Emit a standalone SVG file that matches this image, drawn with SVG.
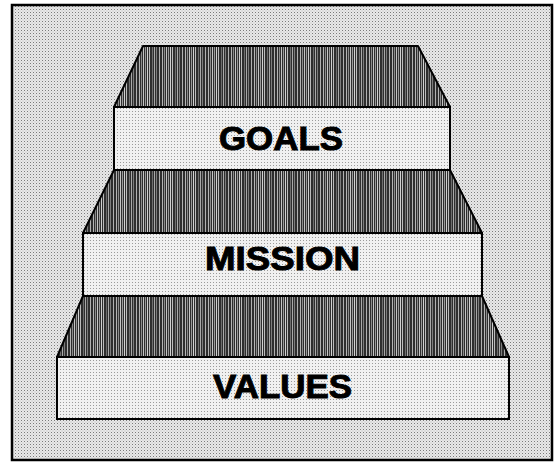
<svg xmlns="http://www.w3.org/2000/svg" width="555" height="463" viewBox="0 0 555 463">
  <defs>
    <!-- halftone dot screen for the backdrop -->
    <pattern id="dots" width="3" height="3" patternUnits="userSpaceOnUse">
      <rect width="3" height="3" fill="#e8e8e8"/>
      <rect x="0" y="0" width="1" height="1" fill="#7a7a7a"/>
      <rect x="1.5" y="1.5" width="1" height="1" fill="#b8b8b8"/>
    </pattern>
    <!-- lighter dot screen for the step fronts -->
    <pattern id="dotsLight" width="3" height="3" patternUnits="userSpaceOnUse">
      <rect width="3" height="3" fill="#f0f0f0"/>
      <rect x="0" y="0" width="1" height="1" fill="#9a9a9a"/>
    </pattern>
    <!-- irregular vertical hatching for the step treads -->
    <pattern id="stripes" width="23" height="4" patternUnits="userSpaceOnUse">
      <rect width="23" height="4" fill="#2e2e2e"/>
      <rect x="1" y="0" width="1" height="4" fill="#b4b4b4"/>
      <rect x="3" y="0" width="1" height="4" fill="#8c8c8c"/>
      <rect x="5" y="0" width="1" height="4" fill="#c4c4c4"/>
      <rect x="7" y="0" width="1" height="4" fill="#9a9a9a"/>
      <rect x="9" y="0" width="1" height="4" fill="#d0d0d0"/>
      <rect x="11" y="0" width="1" height="4" fill="#bcbcbc"/>
      <rect x="14" y="0" width="1" height="4" fill="#6e6e6e"/>
      <rect x="16" y="0" width="1" height="4" fill="#a8a8a8"/>
      <rect x="18" y="0" width="1" height="4" fill="#7c7c7c"/>
      <rect x="21" y="0" width="1" height="4" fill="#b0b0b0"/>
    </pattern>
    <style>
      .tread { fill: url(#stripes); stroke: #000; stroke-width: 2; stroke-linejoin: round; }
      .front { fill: url(#dotsLight); stroke: #000; stroke-width: 2; }
      .label { font-family: "Liberation Sans", Arial, sans-serif; font-weight: bold; font-size: 34px; fill: #000; stroke: #000; stroke-width: 1; text-anchor: middle; }
    </style>
  </defs>

  <!-- backdrop and frame -->
  <rect x="12" y="5" width="540" height="455" fill="url(#dots)" stroke="#000" stroke-width="2.5"/>

  <g id="tier-values">
    <polygon class="tread" points="83,296 482,296 509,357 57,357"/>
    <rect class="front" x="57" y="357" width="452" height="62"/>
    <text class="label" x="282.5" y="398" textLength="139" lengthAdjust="spacingAndGlyphs">VALUES</text>
  </g>

  <g id="tier-mission">
    <polygon class="tread" points="114,170 450,170 482,233 83,233"/>
    <rect class="front" x="83" y="233" width="399" height="63"/>
    <text class="label" x="282.5" y="270" textLength="155" lengthAdjust="spacingAndGlyphs">MISSION</text>
  </g>

  <g id="tier-goals">
    <polygon class="tread" points="143,46 418,46 450,107 114,107"/>
    <rect class="front" x="114" y="107" width="336" height="63"/>
    <text class="label" x="281" y="150" textLength="124" lengthAdjust="spacingAndGlyphs">GOALS</text>
  </g>
</svg>
